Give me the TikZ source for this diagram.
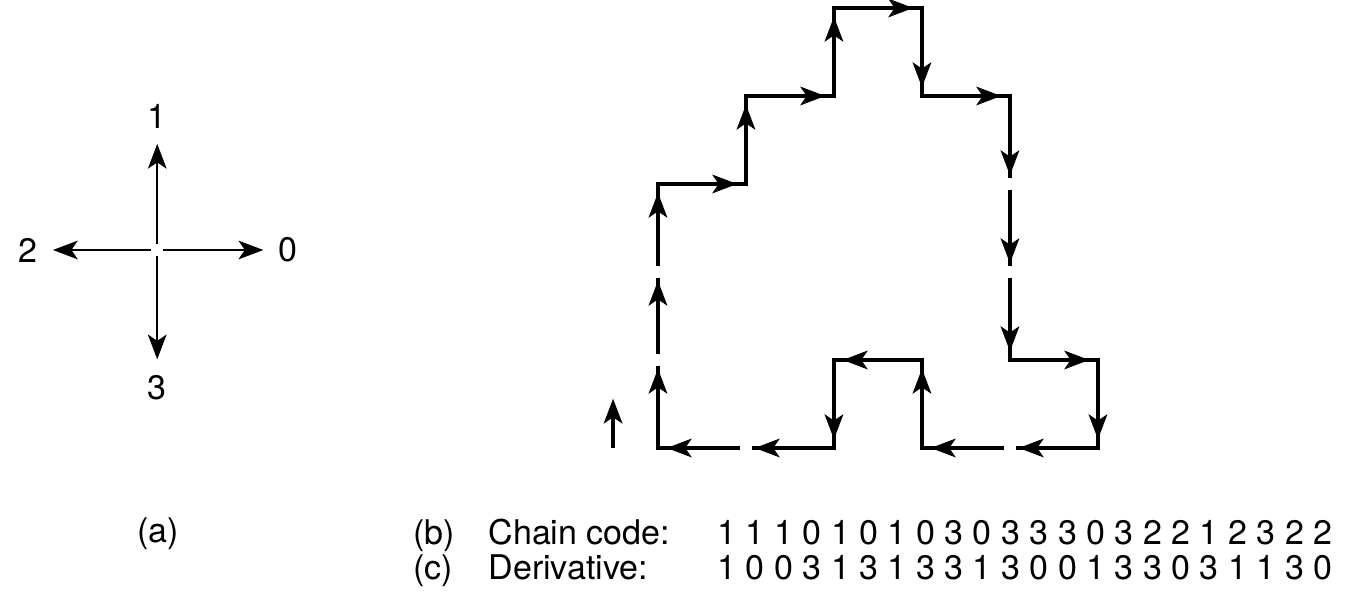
\documentclass[tikz,border=0pt]{standalone}
\usepackage{fontspec}
\setmainfont{TeX Gyre Heros}
\usetikzlibrary{arrows.meta,decorations.markings}

\begin{document}
\begin{tikzpicture}[font=\fontsize{11}{11}\selectfont,
  >={Stealth[length=8pt,width=6pt,inset=2pt]},
  seg/.style={line width=1.1pt,line cap=rect,
    decoration={markings,mark=at position 0.9 with {\arrow{>}}},postaction={decorate}},
  gapin/.style={shorten <=2.4pt},
  gapout/.style={shorten >=2.4pt},
  ar/.style={->,line width=0.8pt},
  lbl/.style={inner sep=0pt,anchor=base west}]
\useasboundingbox (-7.477,-1.705) rectangle (8.080,5.091);
% (a) the four directions
\node[inner sep=1.8pt] (c) at (-5.69,2.25) {};
\node (d1) at (-5.69,3.77) {1};
\node (d0) at (-4.20,2.25) {0};
\node (d2) at (-7.16,2.25) {2};
\node (d3) at (-5.69,0.69) {3};
\foreach \d in {0,1,2,3} \draw[ar,shorten >=1.5pt] (c) -- (d\d);
\node[anchor=base] (la) at (-5.68,-1.07) {(a)};
% (b) the boundary, one edge per code
\foreach \n/\x/\y in {0/0/0,1/0/1,2/0/2,3/0/3,4/1/3,5/1/4,6/2/4,7/2/5,8/3/5,9/3/4,10/4/4,
    11/4/3,12/4/2,13/4/1,14/5/1,15/5/0,16/4/0,17/3/0,18/3/1,19/2/1,20/2/0,21/1/0}
  \coordinate (p\n) at (\x,\y);
\path (p0) edge[seg,gapout] (p1) (p1) edge[seg,gapin,gapout] (p2) (p2) edge[seg,gapin] (p3)
  (p3) edge[seg] (p4) (p4) edge[seg] (p5) (p5) edge[seg] (p6)
  (p6) edge[seg] (p7) (p7) edge[seg] (p8) (p8) edge[seg] (p9)
  (p9) edge[seg] (p10) (p10) edge[seg,gapout] (p11)
  (p11) edge[seg,gapin,gapout] (p12) (p12) edge[seg,gapin] (p13)
  (p13) edge[seg] (p14) (p14) edge[seg] (p15) (p15) edge[seg,gapout] (p16)
  (p16) edge[seg,gapin] (p17) (p17) edge[seg] (p18) (p18) edge[seg] (p19)
  (p19) edge[seg] (p20) (p20) edge[seg,gapout] (p21) (p21) edge[seg,gapin] (p0);
% start marker
\coordinate (s0) at (-0.51,0);
\coordinate (s1) at (-0.51,0.56);
\draw[ar,line width=1.1pt] (s0) -- (s1);
% codes
\node[lbl] (lb) at (-2.784,-1.102) {(b)};
\node[lbl] (tb) at (-1.932,-1.102) {Chain code:};
\node[lbl] (cb) at (0.670,-1.102) {1 1 1 0 1 0 1 0 3 0 3 3 3 0 3 2 2 1 2 3 2 2};
\node[lbl] (lc) at (-2.784,-1.489) {(c)};
\node[lbl] (tc) at (-1.932,-1.489) {Derivative:};
\node[lbl] (cc) at (0.670,-1.489) {1 0 0 3 1 3 1 3 3 1 3 0 0 1 3 3 0 3 1 1 3 0};
\end{tikzpicture}
\end{document}
